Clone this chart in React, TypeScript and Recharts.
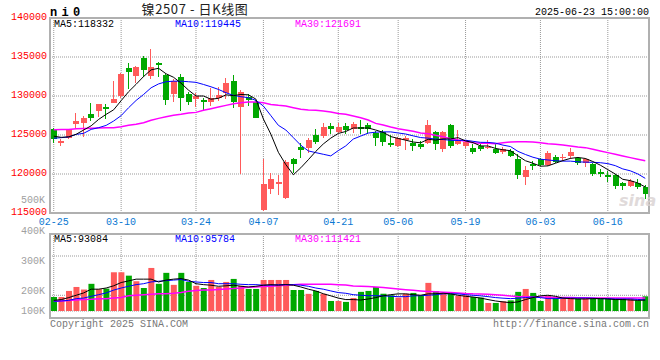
import React from "react"
import { ComposedChart, Bar, Line, XAxis, YAxis, CartesianGrid, Cell } from "recharts"

const MONO = '"Liberation Mono", "DejaVu Sans Mono", monospace'
const CJK = '"Noto Sans CJK SC", "Noto Sans", sans-serif'
const RED = "#ff5a5a"
const GREEN = "#00a800"
const BLUE_TXT = "#0a78d2"
const GRID = "#999"

const dates = [
  "02-25", "02-26", "02-27", "02-28", "03-03", "03-04", "03-05", "03-06", "03-07", "03-10",
  "03-11", "03-12", "03-13", "03-14", "03-17", "03-18", "03-19", "03-20", "03-21", "03-24",
  "03-25", "03-26", "03-27", "03-28", "03-31", "04-01", "04-02", "04-03", "04-07", "04-08",
  "04-09", "04-10", "04-11", "04-14", "04-15", "04-16", "04-17", "04-18", "04-21", "04-22",
  "04-23", "04-24", "04-25", "04-28", "04-29", "04-30", "05-06", "05-07", "05-08", "05-09",
  "05-12", "05-13", "05-14", "05-15", "05-16", "05-19", "05-20", "05-21", "05-22", "05-23",
  "05-26", "05-27", "05-28", "05-29", "05-30", "06-03", "06-04", "06-05", "06-06", "06-09",
  "06-10", "06-11", "06-12", "06-13", "06-16", "06-17", "06-18", "06-19", "06-20", "06-23",
]

const opens = [
  125730, 123980, 124660, 126370, 126490, 127650, 128070, 128540, 129140, 129990,
  133610, 132550, 134890, 132550, 134250, 132680, 130200, 132460, 130200, 129560,
  129440, 129220, 129780, 130420, 131950, 128580, 129910, 129270, 115410, 118050,
  118690, 116900, 121890, 123430, 123380, 124960, 124870, 126150, 125390, 126150,
  125810, 126070, 126280, 125300, 125430, 123980, 123600, 124360, 123940, 123810,
  124020, 125430, 123170, 126240, 123810, 123600, 123300, 123600, 123340, 123250,
  122830, 122960, 121980, 119670, 121250, 121980, 121170, 122230, 122150, 122320,
  122100, 121380, 121250, 120270, 119840, 119840, 118820, 118480, 118910, 118390,
]
const closes = [
  124450, 124240, 125600, 126790, 127130, 127130, 128920, 128290, 129650, 132760,
  133060, 133740, 133320, 133740, 133960, 129480, 131910, 129690, 129220, 129990,
  129270, 129780, 130080, 131700, 129220, 130500, 129480, 127220, 118690, 119330,
  118950, 121550, 121290, 123080, 124360, 124110, 126070, 125810, 126070, 125640,
  126370, 125810, 125810, 124580, 124110, 123720, 124660, 124580, 123600, 123470,
  126240, 123890, 125390, 123600, 124230, 124110, 122830, 123250, 123510, 122740,
  123170, 122320, 119840, 120530, 121040, 121120, 122660, 121550, 122230, 122830,
  121460, 121890, 119970, 119970, 119670, 118480, 118480, 119120, 118270, 117410,
]
const highs = [
  125940, 124530, 125810, 127860, 127430, 129140, 129000, 128920, 131910, 132970,
  134250, 133900, 135110, 136040, 134340, 132760, 132120, 132760, 130500, 130420,
  129780, 131060, 131180, 132250, 132630, 130760, 130200, 129440, 121890, 120100,
  119840, 121760, 122100, 124020, 124580, 125730, 126580, 126490, 126580, 126490,
  126660, 126920, 126580, 125510, 125600, 124960, 124790, 124870, 124530, 124230,
  126920, 125510, 125510, 126370, 125600, 124230, 123810, 123810, 124320, 123810,
  123470, 123170, 122530, 121040, 121680, 122100, 122960, 122400, 122610, 123380,
  122230, 122100, 121380, 120610, 120400, 119970, 118990, 119330, 119330, 118570,
]
const lows = [
  124020, 123600, 124530, 125940, 124790, 126790, 127350, 127010, 129050, 129780,
  130840, 131700, 132460, 132120, 132460, 128840, 129270, 128070, 128840, 128630,
  128160, 128710, 129350, 129560, 128500, 119970, 128710, 127130, 115280, 117410,
  117330, 116780, 120190, 122020, 122740, 123810, 124660, 125090, 125220, 125090,
  125300, 125090, 125090, 123600, 123600, 123510, 123510, 123080, 122960, 123170,
  123810, 123080, 122830, 123380, 123680, 123380, 122610, 122960, 123250, 122530,
  122530, 122230, 119420, 118570, 120530, 121040, 121040, 121460, 121680, 121890,
  121120, 120950, 119760, 119670, 118990, 118050, 117970, 118390, 118140, 116780,
]

const ma5 = [
  124850, 124700, 124760, 125100, 125640, 126180, 127000, 127650, 128230, 129400,
  130550, 131500, 132500, 133350, 133550, 132850, 132400, 131650, 130750, 130000,
  130000, 129590, 129700, 130150, 130050, 130200, 130150, 129600, 127050, 125100,
  122780, 121200, 119900, 120800, 121830, 122900, 123850, 124600, 125200, 125450,
  125900, 125900, 125900, 125640, 125340, 124800, 124560, 124340, 124100, 124000,
  124450, 124350, 124500, 124500, 124660, 124240, 124030, 123600, 123590, 123280,
  123100, 122990, 122320, 121700, 121380, 121000, 121040, 121380, 121720, 122000,
  122120, 121990, 121600, 121130, 120560, 119990, 119320, 119150, 118850, 118332,
]
const ma10 = [
  124580, 124660, 124750, 125080, 125220, 125720, 125940, 126230, 126790, 127480,
  128500, 129430, 130200, 131050, 131550, 131830, 131900, 131900, 131830, 131750,
  131480, 131180, 130840, 130420, 130080, 129910, 129780, 129440, 128710, 127480,
  126240, 125640, 124660, 123680, 122960, 122740, 122530, 122320, 123000, 123600,
  124480, 124860, 125250, 125360, 125400, 125400, 125260, 125130, 124890, 124670,
  124600, 124470, 124420, 124320, 124300, 124330, 124190, 124060, 124050, 123960,
  123700, 123520, 122900, 122500, 122150, 121900, 121800, 121700, 121650, 121650,
  121560, 121520, 121500, 121450, 121330, 121070, 120650, 120410, 120010, 119445,
]
const ma30 = [
  125680, 125700, 125720, 125800, 125820, 125860, 125900, 125920, 125940, 126070,
  126240, 126370, 126580, 126880, 127130, 127350, 127520, 127650, 127820, 127900,
  128160, 128370, 128580, 128800, 129010, 129140, 129220, 129220, 129140, 128920,
  128800, 128710, 128500, 128290, 128200, 128160, 128070, 127940, 127770, 127650,
  127430, 127220, 126920, 126490, 126280, 126030, 125810, 125640, 125470, 125260,
  125170, 124960, 124790, 124530, 124360, 124190, 124020, 123940, 123940, 123890,
  124020, 124110, 124150, 124150, 124110, 124020, 123890, 123810, 123720, 123600,
  123470, 123380, 123170, 122960, 122740, 122530, 122320, 122100, 121890, 121691,
]

const volumes = [
  120000, 120000, 172000, 206000, 184000, 233000, 187000, 192000, 332000, 332000,
  303000, 255000, 197000, 369000, 233000, 327000, 224000, 327000, 249000, 216000,
  197000, 266000, 206000, 249000, 275000, 216000, 189000, 189000, 266000, 266000,
  266000, 266000, 180000, 180000, 147000, 172000, 147000, 86000, 86000, 78000,
  111000, 164000, 172000, 206000, 148000, 135000, 115000, 148000, 155000, 130000,
  241000, 169000, 148000, 148000, 130000, 135000, 120000, 115000, 69000, 69000,
  83000, 91000, 164000, 189000, 155000, 86000, 130000, 115000, 115000, 115000,
  106000, 106000, 106000, 106000, 106000, 106000, 106000, 106000, 91000, 126000,
]
const volMa5 = [
  91000, 98000, 115000, 135000, 155000, 187000, 187000, 197000, 216000, 244000,
  258000, 273000, 273000, 273000, 249000, 265000, 273000, 278000, 265000, 234000,
  226000, 221000, 212000, 216000, 221000, 212000, 206000, 212000, 221000, 226000,
  221000, 226000, 221000, 206000, 187000, 172000, 148000, 130000, 111000, 98000,
  98000, 94000, 103000, 115000, 130000, 140000, 147000, 147000, 140000, 135000,
  147000, 148000, 152000, 147000, 135000, 126000, 120000, 111000, 98000, 86000,
  78000, 71000, 78000, 98000, 115000, 130000, 135000, 126000, 111000, 106000,
  103000, 103000, 106000, 106000, 103000, 98000, 98000, 94000, 91000, 93084,
]
const volMa10 = [
  83000, 86000, 91000, 106000, 111000, 126000, 140000, 155000, 179000, 197000,
  212000, 226000, 234000, 249000, 255000, 260000, 265000, 270000, 255000, 249000,
  244000, 244000, 234000, 234000, 234000, 229000, 226000, 226000, 221000, 221000,
  226000, 226000, 226000, 221000, 212000, 197000, 187000, 172000, 158000, 152000,
  140000, 135000, 131000, 131000, 130000, 126000, 123000, 123000, 130000, 131000,
  135000, 140000, 147000, 148000, 147000, 140000, 135000, 130000, 123000, 115000,
  110000, 106000, 110000, 115000, 120000, 115000, 106000, 106000, 110000, 111000,
  111000, 111000, 110000, 106000, 106000, 103000, 103000, 103000, 99000, 95784,
]
const volMa30 = [
  83000, 86000, 89000, 94000, 98000, 101000, 106000, 106000, 111000, 116000,
  130000, 135000, 140000, 143000, 147000, 148000, 152000, 158000, 169000, 175000,
  179000, 180000, 184000, 189000, 192000, 197000, 204000, 206000, 209000, 212000,
  216000, 221000, 226000, 229000, 229000, 229000, 229000, 229000, 226000, 222000,
  215000, 212000, 209000, 206000, 202000, 195000, 188000, 182000, 177000, 172000,
  168000, 165000, 161000, 158000, 155000, 150000, 147000, 146000, 143000, 140000,
  135000, 128000, 124000, 123000, 121000, 120000, 117000, 115000, 115000, 115000,
  114000, 113000, 112000, 112000, 112000, 111000, 111000, 111000, 111000, 111421,
]

const dateTicks = ["02-25", "03-10", "03-24", "04-07", "04-21", "05-06", "05-19", "06-03", "06-16"]
const priceTicks = [115000, 120000, 125000, 130000, 135000, 140000]
const volGridTicks = [100000, 200000, 300000]
const volLabelTicks = [100000, 200000, 300000, 400000, 500000]

const priceRows = dates.map((date, i) => ({
  date,
  open: opens[i],
  high: highs[i],
  low: lows[i],
  close: closes[i],
  ma5: ma5[i],
  ma10: ma10[i],
  ma30: ma30[i],
}))

const volRows = dates.map((date, i) => ({
  date,
  vol: volumes[i],
  up: closes[i] >= opens[i],
  ma5: volMa5[i],
  ma10: volMa10[i],
  ma30: volMa30[i],
}))

const last = (arr: number[]) => arr[arr.length - 1]

function Candle(props: any) {
  const { x, y, width, height, payload } = props
  if (!payload) return null
  const { open, close, high, low } = payload
  const color = close >= open ? RED : GREEN
  const k = high > low ? height / (high - low) : 0
  const yOf = (v: number) => y + (high - v) * k
  const top = Math.round(yOf(Math.max(open, close)))
  const bottom = Math.round(yOf(Math.min(open, close)))
  const left = Math.round(x)
  const w = Math.round(width)
  const wickTop = Math.round(y)
  const wickBottom = Math.round(y + height)
  return (
    <g shapeRendering="crispEdges">
      <rect x={left + 2} y={wickTop} width={1} height={Math.max(1, wickBottom - wickTop)} fill={color} />
      <rect x={left} y={top} width={w} height={Math.max(1, bottom - top)} fill={color} />
    </g>
  )
}

// sina puts the volume labels a bit off the grid; 100K sits on the bar baseline
function VolTick(props: any) {
  const { x, y, payload } = props
  const shift = payload.value === 100000 ? -10.7 : 0
  return (
    <text x={x} y={y + shift} dy="0.355em" textAnchor="end" fill="#a0a0a0" fontSize={10} fontFamily={MONO}>
      {payload.value / 1000}K
    </text>
  )
}

const frame = (top: number, height: number): React.CSSProperties => ({
  position: "absolute",
  left: 49,
  top,
  width: 601,
  height,
  boxSizing: "border-box",
  border: "2px solid #b0b0b0",
  pointerEvents: "none",
})

export default function App() {
  return (
    <div style={{ position: "absolute", left: 0, top: 0, width: 660, height: 360, background: "#fff", overflow: "hidden" }}>
      <div style={{ position: "absolute", left: 0, top: 0 }}>
        <ComposedChart width={660} height={230} data={priceRows} margin={{ top: 18, right: 11, bottom: 3, left: 0 }}>
          <CartesianGrid stroke={GRID} strokeDasharray="1 1" />
          <XAxis
            dataKey="date"
            ticks={dateTicks}
            interval={0}
            height={14}
            tickLine={false}
            axisLine={false}
            tickSize={0}
            tickMargin={5}
            tick={{ fill: BLUE_TXT, fontSize: 10, fontFamily: MONO }}
          />
          <YAxis
            domain={[115000, 140000]}
            ticks={priceTicks}
            interval={0}
            allowDataOverflow
            width={50}
            tickLine={false}
            axisLine={false}
            tickSize={0}
            tickMargin={3}
            tick={{ fill: "#f00", fontSize: 10, fontFamily: MONO, dy: -2 }}
          />
          <Bar dataKey={(d: any) => [d.low, d.high]} shape={<Candle />} barSize={6} isAnimationActive={false} />
          <Line dataKey="ma30" stroke="#ff00ff" strokeWidth={1.5} dot={false} activeDot={false} isAnimationActive={false} />
          <Line dataKey="ma10" stroke="#0000ff" strokeWidth={1} dot={false} activeDot={false} isAnimationActive={false} />
          <Line dataKey="ma5" stroke="#000" strokeWidth={1} dot={false} activeDot={false} isAnimationActive={false} />
        </ComposedChart>
      </div>

      <div style={{ position: "absolute", left: 0, top: 190 }}>
        <ComposedChart width={660} height={130} data={volRows} margin={{ top: 44, right: 11, bottom: 9, left: 0 }}>
          <CartesianGrid stroke={GRID} strokeDasharray="1 1" />
          <XAxis dataKey="date" hide ticks={dateTicks} interval={0} />
          <YAxis
            yAxisId="lbl"
            width={50}
            domain={[132100, 387100]}
            ticks={volLabelTicks}
            interval={0}
            allowDataOverflow
            tickLine={false}
            axisLine={false}
            tickSize={0}
            tickMargin={5}
            tick={<VolTick />}
          />
          <YAxis hide width={0} orientation="right" domain={[20000, 412000]} ticks={volGridTicks} allowDataOverflow />
          <YAxis yAxisId="vol" hide width={0} orientation="right" domain={[0, 660000]} allowDataOverflow />
          <Bar yAxisId="vol" dataKey="vol" barSize={6} isAnimationActive={false}>
            {volRows.map((r, i) => (
              <Cell key={i} fill={r.up ? RED : GREEN} />
            ))}
          </Bar>
          <Line yAxisId="vol" dataKey="ma30" stroke="#ff00ff" strokeWidth={1.5} dot={false} activeDot={false} isAnimationActive={false} />
          <Line yAxisId="vol" dataKey="ma10" stroke="#0000ff" strokeWidth={1} dot={false} activeDot={false} isAnimationActive={false} />
          <Line yAxisId="vol" dataKey="ma5" stroke="#000" strokeWidth={1} dot={false} activeDot={false} isAnimationActive={false} />
        </ComposedChart>
      </div>

      <div style={frame(17, 197)} />
      <div style={frame(233, 86)} />

      <svg width={660} height={360} style={{ position: "absolute", left: 0, top: 0, pointerEvents: "none" }}>
        <text x={50} y={15.5} fontFamily={MONO} fontWeight="bold" fontSize={12} letterSpacing={4.3} fill="#000">ni0</text>
        <text x={195} y={13.5} textAnchor="middle" fontFamily={CJK} fontSize={13} letterSpacing={0.6} fill="#222">镍2507 - 日K线图</text>
        <text x={649} y={15.3} textAnchor="end" fontFamily={MONO} fontSize={10} fill="#000">2025-06-23 15:00:00</text>

        <text x={54} y={27} fontFamily={MONO} fontSize={10} fill="#000">MA5:{last(ma5)}</text>
        <text x={175} y={27} fontFamily={MONO} fontSize={10} fill="#0000ff">MA10:{last(ma10)}</text>
        <text x={295} y={27} fontFamily={MONO} fontSize={10} fill="#ff00ff">MA30:{last(ma30)}</text>

        <text x={54} y={242} fontFamily={MONO} fontSize={10} fill="#000">MA5:{last(volMa5)}</text>
        <text x={175} y={242} fontFamily={MONO} fontSize={10} fill="#0000ff">MA10:{last(volMa10)}</text>
        <text x={295} y={242} fontFamily={MONO} fontSize={10} fill="#ff00ff">MA30:{last(volMa30)}</text>

        <text x={619} y={206} fontFamily='"DejaVu Sans", sans-serif' fontStyle="italic" fontWeight="bold" fontSize={16} fill="#d9d2d2" opacity={0.8}>sina</text>

        <text x={50} y={327} fontFamily={MONO} fontSize={10} fill="#777">Copyright 2025 SINA.COM</text>
        <text x={649} y={327} textAnchor="end" fontFamily={MONO} fontSize={10} fill="#777">http://finance.sina.com.cn</text>
      </svg>
    </div>
  )
}
